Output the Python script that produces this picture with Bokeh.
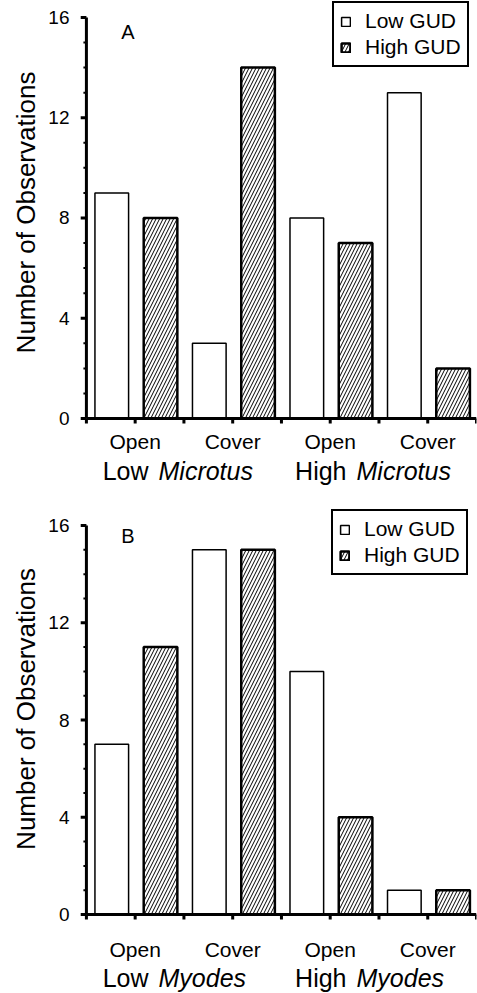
import math
from bokeh.plotting import figure
from bokeh.models import FixedTicker, Label, Legend, LegendItem, Range1d
from bokeh.layouts import column
from bokeh.core.properties import value
from bokeh.embed import file_html
from bokeh.resources import INLINE

# ---- data ----
habitats = ["Open", "Cover", "Open", "Cover"]
series_names = ["Low GUD", "High GUD"]
density_levels = ["Low", "High"]
y_labelled_ticks = [0, 4, 8, 12, 16]
y_minor_ticks = [1, 2, 3, 5, 6, 7, 9, 10, 11, 13, 14, 15]

a_species = "Microtus"
a_low_gud = [9, 3, 8, 13]
a_high_gud = [8, 14, 7, 2]

b_species = "Myodes"
b_low_gud = [7, 15, 10, 1]
b_high_gud = [11, 15, 4, 1]

FONT = "Liberation Sans"
YMAX = 16
PAD = 6  # frame extends this many px beyond the axes so tick marks show


def make_main(letter, low, high, height, axis_px, top_px, tick_standoff,
              legend_xy, letter_y):
    n = len(habitats)
    xmax = 2 * n
    upp_x = xmax / (476 - 80)
    upp_y = YMAX / (axis_px - top_px)
    frame_bottom = axis_px + PAD
    p = figure(width=477, height=height, output_backend="svg",
               toolbar_location=None,
               x_range=Range1d(-PAD * upp_x, xmax),
               y_range=Range1d(-PAD * upp_y, YMAX + top_px * upp_y),
               min_border_left=80 - PAD, min_border_right=1,
               min_border_top=0, min_border_bottom=height - frame_bottom)
    p.outline_line_color = None
    p.xgrid.visible = False
    p.ygrid.visible = False

    xs_low = [2 * i + 0.52 for i in range(n)]
    xs_high = [2 * i + 1.52 for i in range(n)]
    r_low = p.vbar(x=xs_low, top=low, width=0.69, bottom=0,
                   fill_color="white", line_color="black", line_width=1.5)
    r_high = p.vbar(x=xs_high, top=high, width=0.69, bottom=0,
                    fill_color="white", line_color="black", line_width=2.5,
                    hatch_pattern="/", hatch_color="black",
                    hatch_scale=7, hatch_weight=1)

    # axis lines and tick marks drawn at the data origin
    p.segment(x0=[0], y0=[0], x1=[0], y1=[YMAX], line_color="black",
              line_width=3)
    p.segment(x0=[0], y0=[0], x1=[xmax], y1=[0], line_color="black",
              line_width=3)
    p.ray(x=[0] * len(y_labelled_ticks), y=y_labelled_ticks, length=6,
          length_units="screen", angle=math.pi, line_color="black",
          line_width=3)
    p.ray(x=[0] * len(y_minor_ticks), y=y_minor_ticks, length=3,
          length_units="screen", angle=math.pi, line_color="black",
          line_width=2)
    x_tick_pos = list(range(0, xmax + 1))
    p.ray(x=x_tick_pos, y=[0] * len(x_tick_pos), length=5,
          length_units="screen", angle=-math.pi / 2, line_color="black",
          line_width=3)

    ya = p.yaxis[0]
    ya.bounds = (0, YMAX)
    ya.ticker = FixedTicker(ticks=y_labelled_ticks, minor_ticks=[])
    ya.axis_label = "Number of Observations"
    ya.axis_label_text_font = FONT
    ya.axis_label_text_font_size = "26px"
    ya.axis_label_text_font_style = "normal"
    ya.axis_label_text_color = "black"
    ya.axis_label_standoff = 4
    ya.major_label_text_font = FONT
    ya.major_label_text_font_size = "19px"
    ya.major_label_text_color = "black"
    ya.major_label_standoff = 11
    ya.axis_line_color = None
    ya.major_tick_in = 0
    ya.major_tick_out = 0
    ya.major_tick_line_color = None
    ya.minor_tick_line_color = None

    xa = p.xaxis[0]
    label_pos = [2 * i + 1 for i in range(n)]
    xa.ticker = FixedTicker(ticks=label_pos, minor_ticks=[])
    xa.major_label_overrides = {pos: h for pos, h in zip(label_pos, habitats)}
    xa.major_label_text_font = FONT
    xa.major_label_text_font_size = "21px"
    xa.major_label_text_color = "black"
    xa.major_label_standoff = tick_standoff
    xa.axis_line_color = None
    xa.major_tick_in = 0
    xa.major_tick_out = 0
    xa.major_tick_line_color = None
    xa.minor_tick_line_color = None

    p.add_layout(Label(x=0.85, y=letter_y, text=letter, text_align="center",
                       text_baseline="middle", text_font=FONT,
                       text_font_size="20px", text_color="black"))

    legend = Legend(items=[LegendItem(label=series_names[0], renderers=[r_low]),
                           LegendItem(label=series_names[1], renderers=[r_high])],
                    location=legend_xy, orientation="vertical")
    legend.label_text_font = FONT
    legend.label_text_font_size = "21px"
    legend.label_text_color = "black"
    legend.glyph_width = 11
    legend.glyph_height = 11
    legend.label_standoff = 14
    legend.label_height = 24
    legend.spacing = 2
    legend.padding = 6
    legend.margin = 0
    legend.border_line_color = "black"
    legend.border_line_width = 2.5
    legend.border_line_alpha = 1
    legend.background_fill_color = "white"
    legend.background_fill_alpha = 1
    p.add_layout(legend, "center")
    return p


def make_groups(species, height, center_from_top):
    n = len(habitats)
    g = figure(width=477, height=height, output_backend="svg",
               toolbar_location=None, x_range=Range1d(0, 2 * n),
               y_range=Range1d(0, height), min_border_left=80,
               min_border_right=1, min_border_top=0, min_border_bottom=0,
               x_axis_type=None, y_axis_type=None)
    g.outline_line_color = None
    g.xgrid.visible = False
    g.ygrid.visible = False
    centers = [4 * k + 2 for k in range(len(density_levels))]
    ys = [height - center_from_top] * len(density_levels)
    g.text(x=centers, y=ys, text=density_levels, x_offset=-31,
           text_align="right", text_baseline="middle",
           text_font=value(FONT), text_font_size="25px", text_color="black")
    g.text(x=centers, y=ys, text=[species] * len(density_levels), x_offset=-21,
           text_align="left", text_baseline="middle",
           text_font=value(FONT), text_font_size="25px",
           text_font_style="italic", text_color="black")
    return g


# Panel A: 497 px tall in total (main 455 + group labels 42)
pA = make_main("A", a_low_gud, a_high_gud, height=455, axis_px=419, top_px=17,
               tick_standoff=5, legend_xy=(252, 357), letter_y=15.4)
gA = make_groups(a_species, height=42, center_from_top=15)

# Panel B: 496 px tall in total (main 466 + group labels 30)
pB = make_main("B", b_low_gud, b_high_gud, height=466, axis_px=417, top_px=28,
               tick_standoff=17, legend_xy=(251, 345), letter_y=15.55)
gB = make_groups(b_species, height=30, center_from_top=14)

layout = column(pA, gA, pB, gB)
open("out.html", "w").write(file_html(layout, INLINE))
